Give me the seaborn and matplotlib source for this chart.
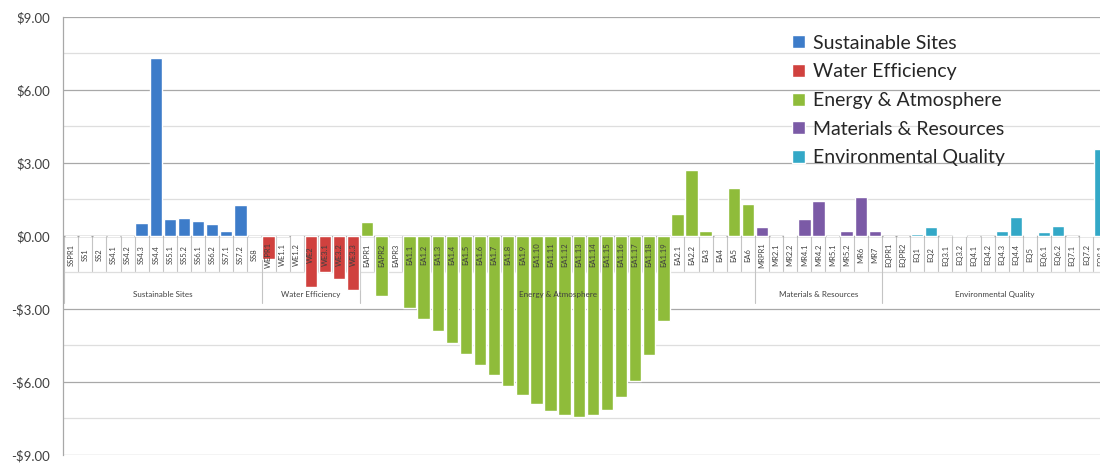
import numpy as np
import pandas as pd
import matplotlib.pyplot as plt
import matplotlib.ticker as mticker
import seaborn as sns

# Credit groups and colours
groups = ["Sustainable Sites", "Water Efficiency", "Energy & Atmosphere",
          "Materials & Resources", "Environmental Quality"]
colors = ["#3d7cc9", "#d0413e", "#8fbc3a", "#7b5aa6", "#33a8c7"]

# Credit codes and values ($) per group
ss_labels = ["SSPR1", "SS1", "SS2", "SS4.1", "SS4.2", "SS4.3", "SS4.4",
             "SS5.1", "SS5.2", "SS6.1", "SS6.2", "SS7.1", "SS7.2", "SS8"]
ss_values = [0, 0, 0, 0, 0, 0.52, 7.33, 0.68, 0.75, 0.63, 0.48, 0.22, 1.27, 0]

we_labels = ["WEPR1", "WE1.1", "WE1.2", "WE2", "WE3.1", "WE3.2", "WE3.3"]
we_values = [-0.96, 0, -0.03, -2.08, -1.46, -1.77, -2.24]

ea_labels = ["EAPR1", "EAPR2", "EAPR3",
             "EA1.1", "EA1.2", "EA1.3", "EA1.4", "EA1.5", "EA1.6", "EA1.7",
             "EA1.8", "EA1.9", "EA1.10", "EA1.11", "EA1.12", "EA1.13", "EA1.14",
             "EA1.15", "EA1.16", "EA1.17", "EA1.18", "EA1.19",
             "EA2.1", "EA2.2", "EA3", "EA4", "EA5", "EA6"]
ea_values = [0.56, -2.45, 0,
             -2.94, -3.42, -3.90, -4.41, -4.84, -5.29, -5.73,
             -6.16, -6.53, -6.91, -7.21, -7.37, -7.44, -7.37,
             -7.14, -6.63, -5.94, -4.90, -3.49,
             0.90, 2.71, 0.21, 0, 1.98, 1.30]

mr_labels = ["MRPR1", "MR2.1", "MR2.2", "MR4.1", "MR4.2", "MR5.1", "MR5.2", "MR6", "MR7"]
mr_values = [0.36, 0, 0.04, 0.68, 1.42, 0, 0.19, 1.61, 0.22]

eq_labels = ["EQPR1", "EQPR2", "EQ1", "EQ2", "EQ3.1", "EQ3.2", "EQ4.1", "EQ4.2",
             "EQ4.3", "EQ4.4", "EQ5", "EQ6.1", "EQ6.2", "EQ7.1", "EQ7.2", "EQ8.1"]
eq_values = [0, 0, 0.07, 0.36, 0, 0.04, 0, 0, 0.20, 0.78, 0.02, 0.16, 0.41, 0, 0.03, 3.56]

all_labels = [ss_labels, we_labels, ea_labels, mr_labels, eq_labels]
all_values = [ss_values, we_values, ea_values, mr_values, eq_values]

# Build one long table
rows = []
for g, labs, vals in zip(groups, all_labels, all_values):
    for lab, val in zip(labs, vals):
        rows.append({"code": lab, "group": g, "value": val})
df = pd.DataFrame(rows)
codes = list(df["code"])
n = len(codes)

sns.set_style("white")
plt.rcParams['font.family'] = ['Lato', 'DejaVu Sans']

fig = plt.figure(figsize=(11, 4.66), dpi=100)
ax = fig.add_axes([0.057, 0.0236, 0.943, 0.94])

sns.barplot(data=df, x="code", y="value", hue="group", order=codes,
            hue_order=groups, palette=dict(zip(groups, colors)),
            dodge=False, width=0.88, saturation=1, ax=ax, zorder=2)

ax.set_xlim(-0.6, 72.97)
ax.set_ylim(-9, 9)
ax.set_xlabel("")
ax.set_ylabel("")
ax.set_xticks([])

# Gridlines every $1.50, darker every $3.00
ax.yaxis.set_major_locator(mticker.MultipleLocator(3))
ax.yaxis.set_minor_locator(mticker.MultipleLocator(1.5))
ax.yaxis.set_major_formatter(mticker.FuncFormatter(
    lambda v, _: f"-${abs(v):.2f}" if v < 0 else f"${v:.2f}"))
ax.tick_params(axis='y', which='both', length=0, labelsize=9.5,
               labelcolor='#404040', pad=9)
ax.grid(which='major', axis='y', color='#a8a8a8', lw=0.9)
ax.grid(which='minor', axis='y', color='#dedede', lw=0.9)
ax.set_axisbelow(True)

for s in ["top", "right", "bottom"]:
    ax.spines[s].set_visible(False)
ax.spines["left"].set_color('#a8a8a8')
ax.spines["left"].set_linewidth(0.9)

ax.axhline(0, color='#a0a0a0', lw=1, zorder=1.5)

# Category axis: box separators, rotated codes, group names
starts = np.cumsum([0] + [len(l) for l in all_labels])
group_edges = set(starts - 0.5)
for b in np.arange(-0.5, n, 1.0):
    low = -2.75 if b in group_edges else -1.42
    ax.plot([b, b], [0, low], color='#c4c4c4', lw=0.8, zorder=1)

for i, code in enumerate(codes):
    ax.text(i, -0.78, code, rotation=90, ha='center', va='center',
            fontsize=5.5, color='#404040', zorder=3, clip_on=True)

for g, s0, s1 in zip(groups, starts[:-1], starts[1:]):
    ax.text((s0 + s1 - 1) / 2, -2.42, g, ha='center', va='center',
            fontsize=5.8, color='#404040', zorder=3)

sns.move_legend(ax, "upper left", bbox_to_anchor=(0.696, 0.977), frameon=False,
                title=None, fontsize=14, handlelength=0.65, handleheight=0.65,
                handletextpad=0.4, labelspacing=0.6, borderaxespad=0)

fig.savefig("out.png", dpi=100)
